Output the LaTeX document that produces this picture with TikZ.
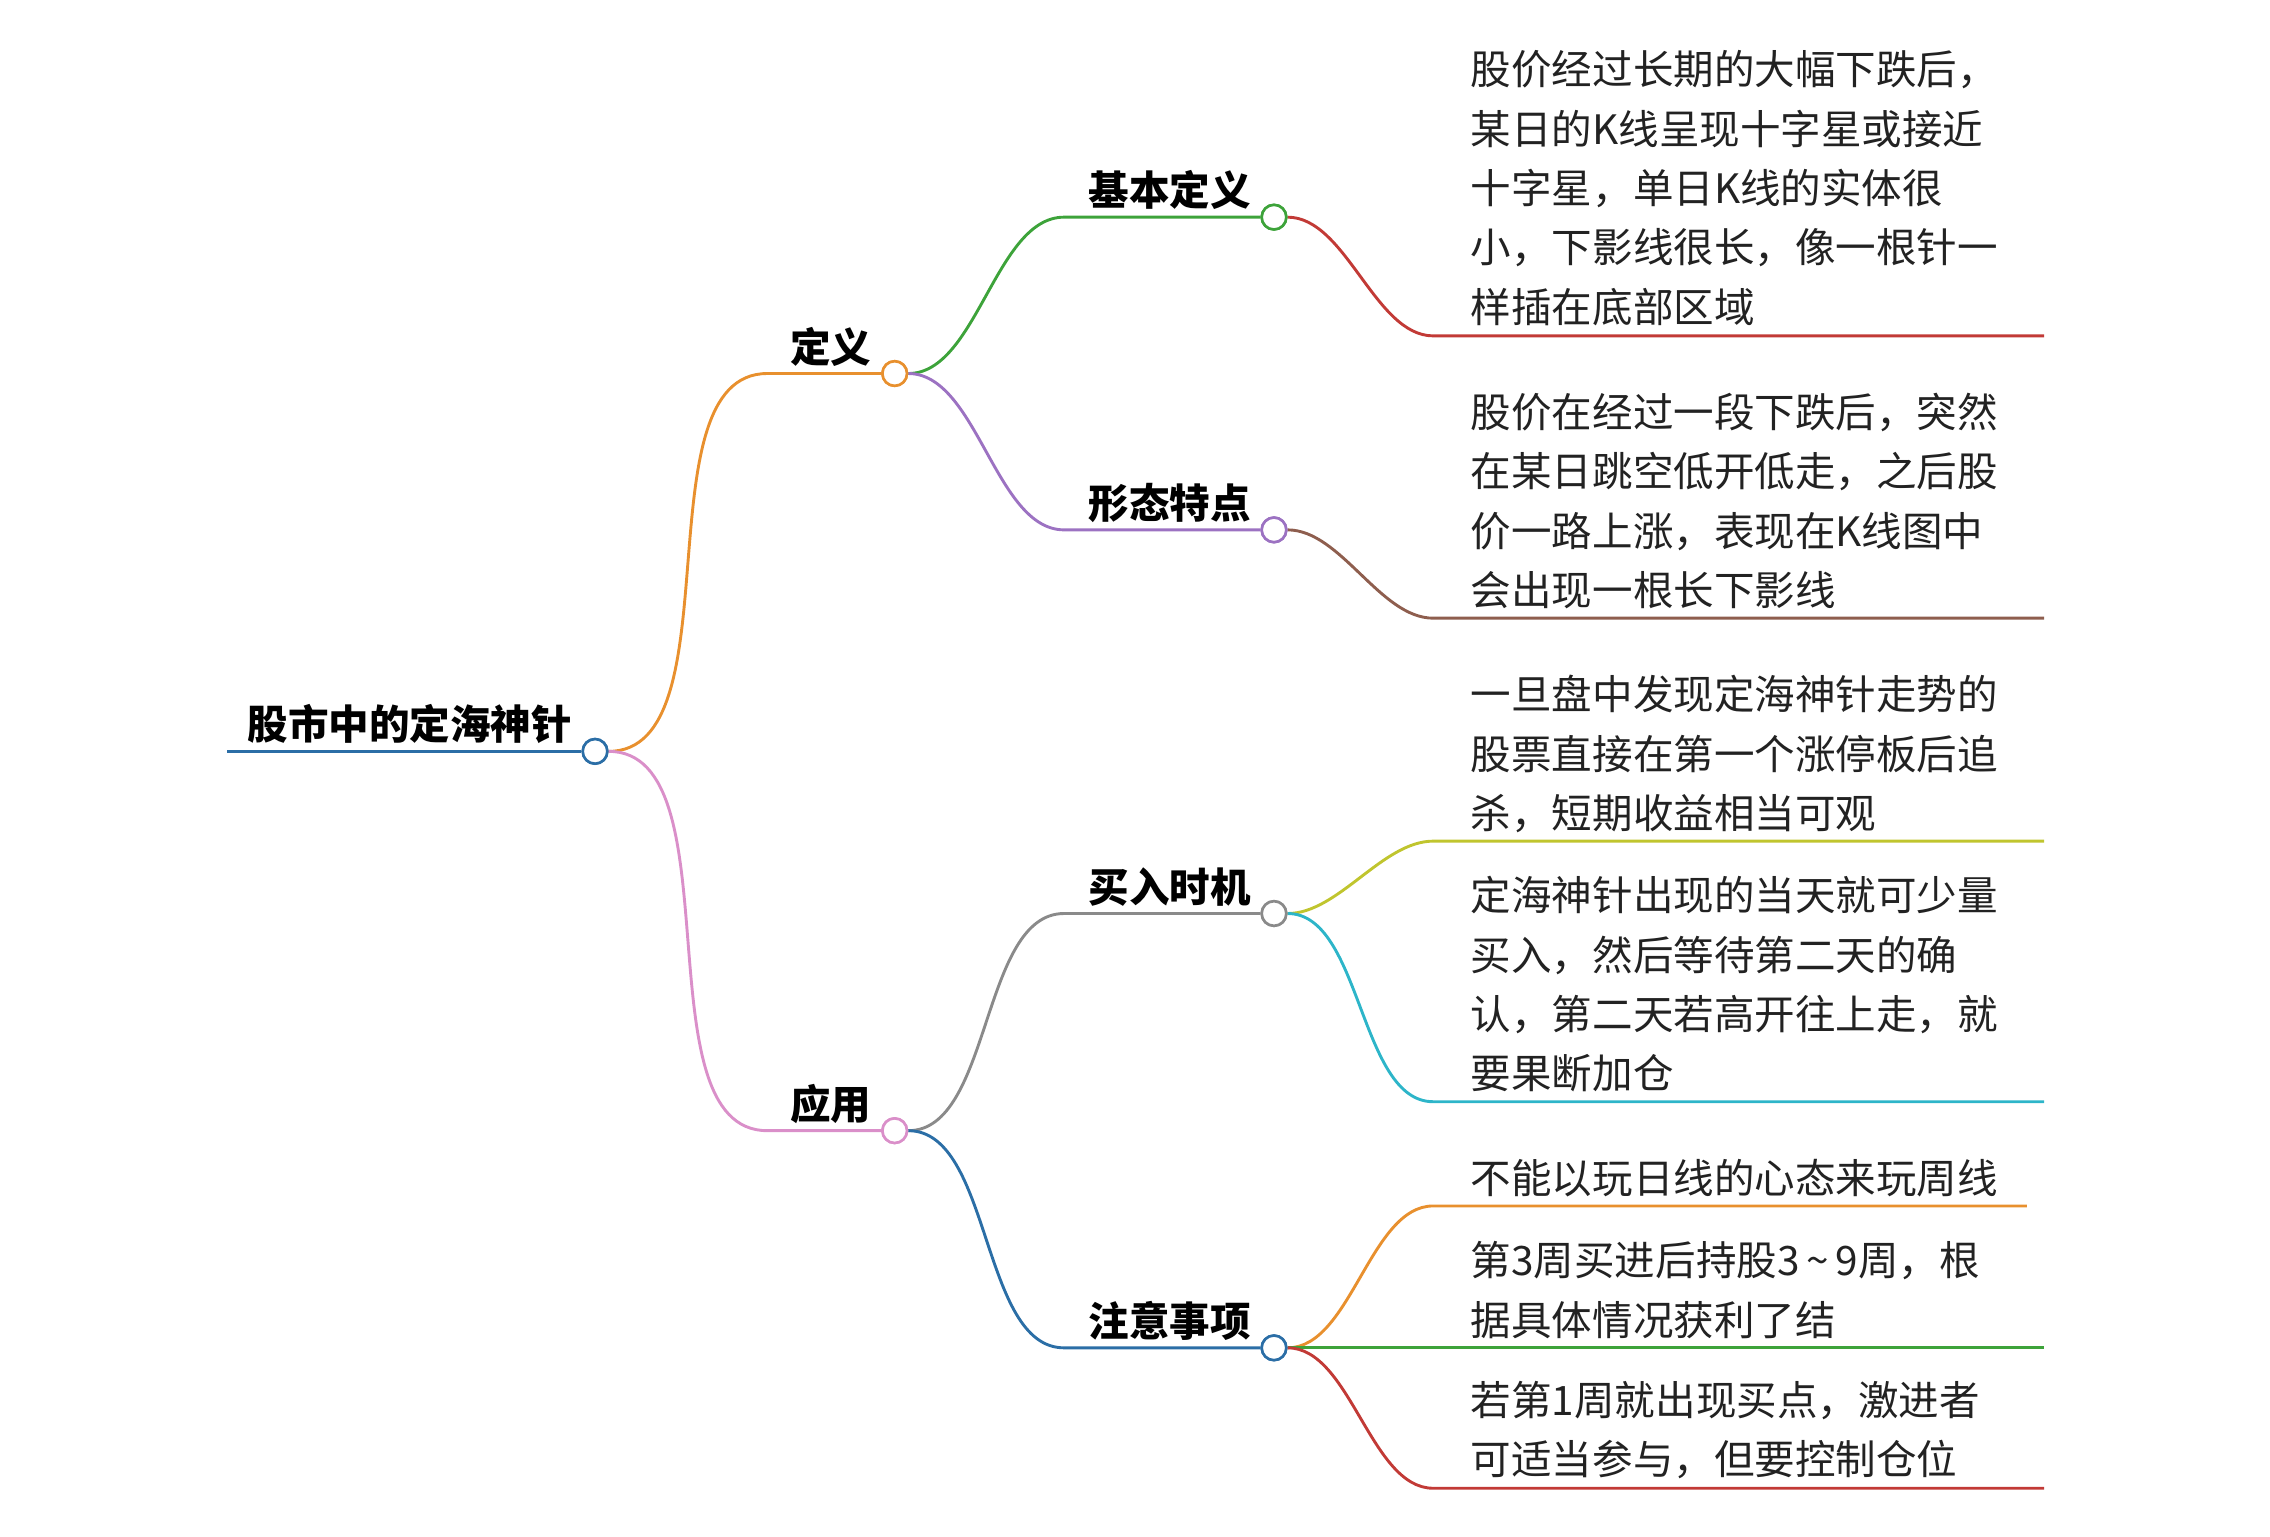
\documentclass[tikz,border=0pt]{standalone}
\usepackage{fontspec}
\setmainfont{Noto Sans CJK SC}
\begin{document}
\begin{tikzpicture}[x=1pt,y=-1pt,line width=2pt,
  dot/.style={circle,draw,fill=white,inner sep=0pt,minimum size=17pt,line width=1.8pt},
  lab/.style={font=\fontsize{28}{32}\selectfont\bfseries,anchor=south,inner sep=2pt},
  leaf/.style={font=\fontsize{28}{41}\selectfont,anchor=west,align=left,inner sep=0pt},
  cv/.style={out=0,in=180,looseness=0.8}]
\definecolor{cOr}{HTML}{E8902E}\definecolor{cGr}{HTML}{3DA33A}\definecolor{cPu}{HTML}{9C72C2}
\definecolor{cRd}{HTML}{C23A36}\definecolor{cBr}{HTML}{8E5E4E}\definecolor{cPk}{HTML}{DA8FC9}
\definecolor{cGy}{HTML}{8A8A8A}\definecolor{cYg}{HTML}{C0C52E}\definecolor{cCy}{HTML}{2DB5C9}
\definecolor{cBl}{HTML}{2B6EA6}\definecolor{cTx}{HTML}{222222}
\useasboundingbox (0,0) rectangle (1568,1061);
% nodes
\node[dot,draw=cBl] (r) at (411,519) {};
\node[dot,draw=cOr] (d) at (618,258) {};
\node[dot,draw=cPk] (y) at (618,781) {};
\node[dot,draw=cGr] (d1) at (880,150) {};
\node[dot,draw=cPu] (d2) at (880,366) {};
\node[dot,draw=cGy] (y1) at (880,631) {};
\node[dot,draw=cBl] (y2) at (880,931) {};
\coordinate (r0) at (157,519);
\coordinate (dA) at (530,258); \coordinate (yA) at (530,781);
\coordinate (d1A) at (735,150); \coordinate (d2A) at (735,366);
\coordinate (y1A) at (735,631); \coordinate (y2A) at (735,931);
\foreach \n/\yy/\xe in {l1/232/1412,l2/427/1412,l3/581/1412,l4/761/1412,l5/833/1400,l6/931/1412,l7/1028/1412}{
  \coordinate (\n A) at (990,\yy); \coordinate (\n B) at (\xe,\yy);}
% connectors
\draw[cBl] (r0) -- (r.west);
\draw[cOr] (r.east) to[cv] (dA) -- (d.west);
\draw[cPk] (r.east) to[cv] (yA) -- (y.west);
\draw[cGr] (d.east) to[cv] (d1A) -- (d1.west);
\draw[cPu] (d.east) to[cv] (d2A) -- (d2.west);
\draw[cGy] (y.east) to[cv] (y1A) -- (y1.west);
\draw[cBl] (y.east) to[cv] (y2A) -- (y2.west);
\draw[cRd] (d1.east) to[cv] (l1A) -- (l1B);
\draw[cBr] (d2.east) to[cv] (l2A) -- (l2B);
\draw[cYg] (y1.east) to[cv] (l3A) -- (l3B);
\draw[cCy] (y1.east) to[cv] (l4A) -- (l4B);
\draw[cOr] (y2.east) to[cv] (l5A) -- (l5B);
\draw[cGr] (y2.east) -- (l6A) -- (l6B);
\draw[cRd] (y2.east) to[cv] (l7A) -- (l7B);
% redraw dots on top
\foreach \n/\c in {r/cBl,d/cOr,y/cPk,d1/cGr,d2/cPu,y1/cGy,y2/cBl}{\node[dot,draw=\c] at (\n) {};}
% labels
\node[lab] (tr) at (283,517) {股市中的定海神针};
\node[lab] (td) at (574,256) {定义};
\node[lab] (ty) at (574,779) {应用};
\node[lab] (td1) at (808,148) {基本定义};
\node[lab] (td2) at (808,364) {形态特点};
\node[lab] (ty1) at (808,629) {买入时机};
\node[lab] (ty2) at (808,929) {注意事项};
% leaf texts
\begin{scope}[text=cTx]
\node[leaf] (t1) at (1015,130) {股价经过长期的大幅下跌后，\\某日的K线呈现十字星或接近\\十字星，单日K线的实体很\\小，下影线很长，像一根针一\\样插在底部区域};
\node[leaf] (t2) at (1015,346) {股价在经过一段下跌后，突然\\在某日跳空低开低走，之后股\\价一路上涨，表现在K线图中\\会出现一根长下影线};
\node[leaf] (t3) at (1015,521) {一旦盘中发现定海神针走势的\\股票直接在第一个涨停板后追\\杀，短期收益相当可观};
\node[leaf] (t4) at (1015,680) {定海神针出现的当天就可少量\\买入，然后等待第二天的确\\认，第二天若高开往上走，就\\要果断加仓};
\node[leaf] (t5) at (1015,814) {不能以玩日线的心态来玩周线};
\node[leaf] (t6) at (1015,891) {第3周买进后持股3\,\textasciitilde\,9周，根\\据具体情况获利了结};
\node[leaf] (t7) at (1015,988) {若第1周就出现买点，激进者\\可适当参与，但要控制仓位};
\end{scope}
\end{tikzpicture}
\end{document}
